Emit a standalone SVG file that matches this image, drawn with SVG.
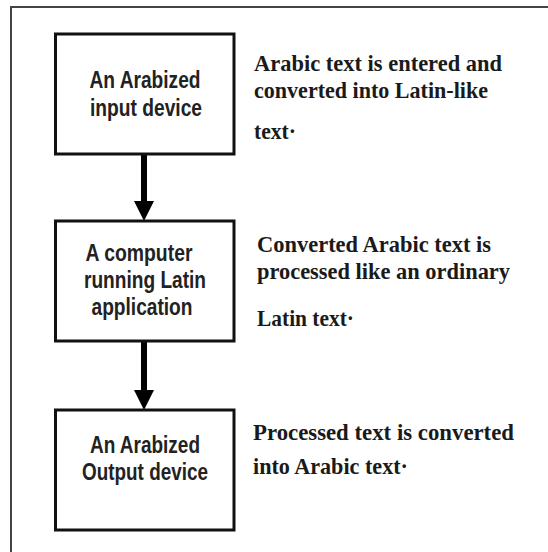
<svg xmlns="http://www.w3.org/2000/svg" width="548" height="552" viewBox="0 0 548 552">
  <style>
    .frame { fill: none; stroke: #444; stroke-width: 2; }
    .box { fill: #fff; stroke: #111; stroke-width: 3; }
    .label { font-family: "Liberation Sans", Arial, sans-serif; font-weight: bold; font-size: 23px; fill: #222; text-anchor: middle; }
    .note { font-family: "Liberation Serif", "Times New Roman", serif; font-weight: bold; font-size: 23px; fill: #1a1a1a; }
    .link { stroke: #000; stroke-width: 6; fill: none; }
  </style>
  <defs>
    <marker id="head" markerUnits="userSpaceOnUse" markerWidth="20" markerHeight="20" refX="0" refY="10" orient="auto" overflow="visible">
      <path d="M0,0 L20,10 L0,20 Z" fill="#000"/>
    </marker>
  </defs>

  <rect width="548" height="552" fill="#fff"/>

  <!-- open frame: top and left edges only -->
  <path class="frame" d="M11,552 V7 H548"/>

  <g id="connectors">
    <path class="link" d="M144,154 V201" marker-end="url(#head)"/>
    <path class="link" d="M144,341 V390" marker-end="url(#head)"/>
  </g>

  <g id="input-device">
    <rect class="box" x="55.5" y="34" width="178.5" height="120"/>
    <text class="label" x="145" y="88" textLength="111" lengthAdjust="spacingAndGlyphs">An Arabized</text>
    <text class="label" x="146" y="116" textLength="112" lengthAdjust="spacingAndGlyphs">input device</text>
  </g>

  <g id="computer">
    <rect class="box" x="55.5" y="221" width="178.5" height="120"/>
    <text class="label" x="139" y="261" textLength="107" lengthAdjust="spacingAndGlyphs">A computer</text>
    <text class="label" x="145" y="288" textLength="122" lengthAdjust="spacingAndGlyphs">running Latin</text>
    <text class="label" x="142" y="315" textLength="101" lengthAdjust="spacingAndGlyphs">application</text>
  </g>

  <g id="output-device">
    <rect class="box" x="55.5" y="410" width="178.5" height="120"/>
    <text class="label" x="145" y="453" textLength="110" lengthAdjust="spacingAndGlyphs">An Arabized</text>
    <text class="label" x="145" y="480" textLength="126" lengthAdjust="spacingAndGlyphs">Output device</text>
  </g>

  <g id="notes">
    <text class="note" x="254" y="71" textLength="248" lengthAdjust="spacingAndGlyphs">Arabic text is entered and</text>
    <text class="note" x="254" y="98" textLength="234" lengthAdjust="spacingAndGlyphs">converted into Latin-like</text>
    <text class="note" x="254" y="139" textLength="42" lengthAdjust="spacingAndGlyphs">text·</text>

    <text class="note" x="257" y="252" textLength="234" lengthAdjust="spacingAndGlyphs">Converted Arabic text is</text>
    <text class="note" x="257" y="279" textLength="253" lengthAdjust="spacingAndGlyphs">processed like an ordinary</text>
    <text class="note" x="257" y="326" textLength="97" lengthAdjust="spacingAndGlyphs">Latin text·</text>

    <text class="note" x="253" y="440" textLength="261" lengthAdjust="spacingAndGlyphs">Processed text is converted</text>
    <text class="note" x="253" y="474" textLength="155" lengthAdjust="spacingAndGlyphs">into Arabic text·</text>
  </g>
</svg>
